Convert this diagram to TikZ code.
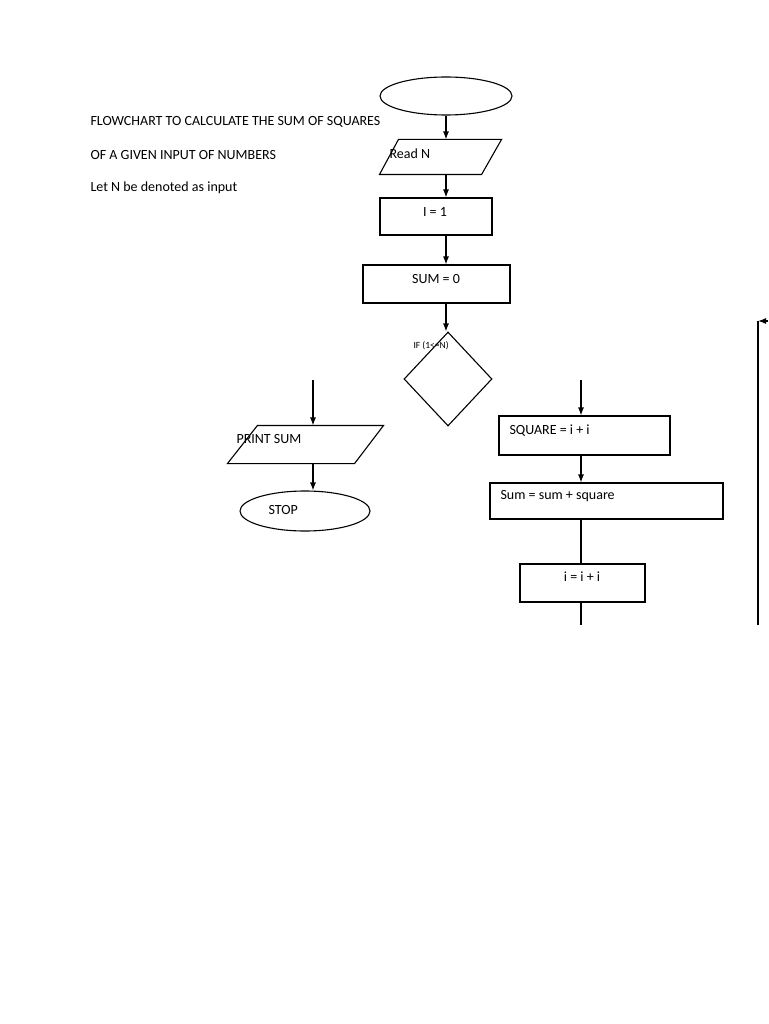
\documentclass[tikz,border=0pt]{standalone}
\usepackage{fontspec}
\setmainfont{Carlito}
\usetikzlibrary{shapes.geometric,arrows.meta}

\begin{document}
\begin{tikzpicture}[x=1pt, y=-1pt, line width=1.1pt,
	every node/.style={inner sep=0pt, font=\fontsize{14}{16}\selectfont},
	box/.style={draw, rectangle},
	io/.style={rectangle},
	term/.style={draw, ellipse},
	txt/.style={anchor=west},
	flow/.style={-{Latex[length=8pt,width=6pt]}}]
	\useasboundingbox (0,0) rectangle (768,1024);
			% heading
			\node[txt] (head1) at (90,122) {FLOWCHART TO CALCULATE THE SUM OF SQUARES};
			\node[txt] (head2) at (90,155) {OF A GIVEN INPUT OF NUMBERS};
			\node[txt] (head3) at (90,188) {Let N be denoted as input};
			
			% main column
			\node[term, minimum width=132, minimum height=38] (start) at (446,96) {};
			\node[io, minimum width=121, minimum height=34] (read) at (440.5,157) {};
			\draw ([xshift=19]read.north west) -- (read.north east) -- ([xshift=-20]read.south east) -- (read.south west) -- cycle;
			\node[txt] (readtxt) at (389,154) {Read N};
			\node[box, minimum width=112, minimum height=37] (init) at (436,216.5) {};
			\node (inittxt) at (435,212) {I = 1};
			\node[box, minimum width=147, minimum height=38] (sum) at (436.5,284) {};
			\node (sumtxt) at (436,279) {SUM = 0};
			\node[draw, diamond, minimum width=88, minimum height=94, aspect=0.94] (test) at (448,379) {};
			\node[txt, font=\fontsize{9.5}{10}\selectfont] (testtxt) at (413,346) {IF (1<=N)};
			
			% left branch
			\coordinate (lin) at (313,380);
			\node[io, minimum width=155, minimum height=37] (print) at (305.5,444.5) {};
			\draw ([xshift=30]print.north west) -- (print.north east) -- ([xshift=-29]print.south east) -- (print.south west) -- cycle;
			\node[txt] (printtxt) at (236,439) {PRINT SUM};
			\node[term, minimum width=130, minimum height=40] (stop) at (305,511) {};
			\node[txt] (stoptxt) at (268,510) {STOP};
			
			% right branch
			\coordinate (rin) at (581,380);
			\node[box, minimum width=171, minimum height=39] (square) at (584.5,435.5) {};
			\node[txt] (squaretxt) at (509,431) {SQUARE = i + i};
			\node[box, minimum width=233, minimum height=36] (acc) at (606.5,501) {};
			\node[txt] (acctxt) at (500,496) {Sum = sum + square};
			\node[box, minimum width=125, minimum height=38] (inc) at (582.5,583) {};
			\node (inctxt) at (582,577) {i = i + i};
			\coordinate (rout) at (581,625);
			
			% loop back line
			\coordinate (back1) at (758,625);
			\coordinate (back2) at (758,321);
			\coordinate (back3) at (768,321);
			
			\foreach \from/\to in {read/init,init/sum,sum/test}
			\draw[flow] (\from.south -| start) -- (\to.north -| start);
			\draw[flow] (start) -- (read.north -| start);
			\draw[flow] (lin) -- (print.north -| lin);
			\draw[flow] (print.south -| lin) -- (stop.north -| lin);
			\draw[flow] (rin) -- (square.north -| rin);
			\draw[flow] (square.south -| rin) -- (acc.north -| rin);
			\draw (acc.south -| rin) -- (inc.north -| rin);
			\draw (inc.south -| rin) -- (rout);
			\draw (back1) -- (back2);
			\draw[flow] (back3) -- (back2);
			\end{tikzpicture}
\end{document}
